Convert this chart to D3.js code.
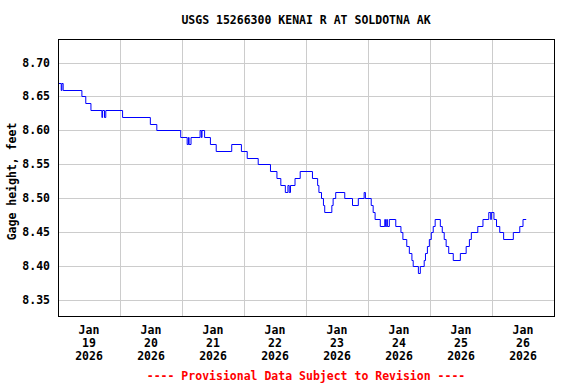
<!DOCTYPE html>
<html>
<head>
<meta charset="utf-8">
<script src="https://cdn.jsdelivr.net/npm/d3@7"></script>
<style>
  body { margin: 0; background: #fff; }
  text { font-family: "DejaVu Sans Mono", monospace; font-weight: bold; }
</style>
</head>
<body>
<div id="chart"></div>
<script>
// gage height, step changes: hours after Jan 19 2026 00:00 and value (ft)
var stepHours = [0, 1.25, 1.5, 2, 9.25, 10.75, 12.75, 17, 17.25, 18, 18.5, 25, 35.75, 38.25,
  47.5, 50, 50.5, 50.75, 51.5, 55, 55.5, 55.75, 56.75, 59, 61.25, 67.25, 71, 73.25, 77.5,
  82.25, 84.75, 86.25, 88, 89, 89.5, 90, 91.75, 93.75, 98.5, 100.5, 101, 102, 102.75, 103.25,
  106, 106.5, 107.5, 111, 114, 116.25, 118.5, 119, 121.25, 122, 122.75, 124.75, 126.5, 126.75,
  127.25, 127.5, 128.25, 130.75, 132.75, 133.5, 135, 136, 137, 137.5, 139.5, 140.25, 141.75,
  142.25, 143, 143.75, 144.5, 145.25, 146, 148, 148.75, 149.5, 150.25, 151.25, 153, 155.75,
  158, 159.25, 160, 162.5, 164.5, 166.75, 167.5, 167.75, 168.75, 169.75, 171, 172.5, 176.25,
  178.75, 180, 181.25];
var stepValues = [8.67, 8.66, 8.67, 8.66, 8.65, 8.64, 8.63, 8.62, 8.63, 8.62, 8.63, 8.62, 8.61, 8.60,
  8.59, 8.58, 8.59, 8.58, 8.59, 8.60, 8.59, 8.60, 8.59, 8.58, 8.57, 8.58, 8.57, 8.56, 8.55,
  8.54, 8.53, 8.52, 8.51, 8.52, 8.51, 8.52, 8.53, 8.54, 8.53, 8.52, 8.51, 8.50, 8.49, 8.48,
  8.49, 8.50, 8.51, 8.50, 8.49, 8.50, 8.51, 8.50, 8.49, 8.48, 8.47, 8.46, 8.47, 8.46,
  8.47, 8.46, 8.47, 8.46, 8.45, 8.44, 8.43, 8.42, 8.41, 8.40, 8.39, 8.40, 8.41,
  8.42, 8.43, 8.44, 8.45, 8.46, 8.47, 8.46, 8.45, 8.44, 8.43, 8.42, 8.41, 8.42,
  8.43, 8.44, 8.45, 8.46, 8.47, 8.48, 8.47, 8.48, 8.47, 8.46, 8.45, 8.44, 8.45,
  8.46, 8.47, 8.47];
var dayLabels = ["19", "20", "21", "22", "23", "24", "25", "26"];
var yTicks = [8.35, 8.40, 8.45, 8.50, 8.55, 8.60, 8.65, 8.70];

var startDate = new Date(2026, 0, 19);
var data = stepHours.map(function(h, i) {
  return { date: startDate.getTime() + h * 3600000, value: stepValues[i] };
});

var W = 576, H = 384;
var margin = {top: 39, right: 22, bottom: 68, left: 58};
var width = W - margin.left - margin.right,   // 496
    height = H - margin.top - margin.bottom;  // 277

var svg = d3.select("#chart").append("svg")
  .attr("width", W).attr("height", H);

var g = svg.append("g")
  .attr("transform", "translate(" + margin.left + "," + margin.top + ")");

var x = d3.scaleTime()
  .domain([startDate, d3.timeDay.offset(startDate, 8)])
  .range([0, width]);
var y = d3.scaleLinear()
  .domain([8.327, 8.7346])
  .range([height, 0]);

// grid
g.append("g")
  .selectAll("line.h")
  .data(yTicks)
  .enter().append("line")
    .attr("x1", 0).attr("x2", width)
    .attr("y1", function(d) { return Math.round(y(d)) + 0.5; })
    .attr("y2", function(d) { return Math.round(y(d)) + 0.5; })
    .attr("stroke", "#cccccc");
g.append("g")
  .selectAll("line.v")
  .data(d3.range(1, 8))
  .enter().append("line")
    .attr("x1", function(d) { return Math.round(x(d3.timeDay.offset(startDate, d))) + 0.5; })
    .attr("x2", function(d) { return Math.round(x(d3.timeDay.offset(startDate, d))) + 0.5; })
    .attr("y1", 0).attr("y2", height)
    .attr("stroke", "#cccccc");

// y tick labels
g.selectAll("text.ylab")
  .data(yTicks)
  .enter().append("text")
    .attr("x", -8)
    .attr("y", function(d) { return y(d) + 4; })
    .attr("text-anchor", "end")
    .style("font-size", "11.5px")
    .text(function(d) { return d.toFixed(2); });

// x tick labels at noon of each day
var xl = g.selectAll("text.xlab")
  .data(dayLabels)
  .enter().append("text")
    .attr("text-anchor", "middle")
    .attr("transform", function(d, i) {
      return "translate(" + x(d3.timeHour.offset(startDate, i * 24 + 12)) + "," + (height + 18) + ")";
    })
    .style("font-size", "11.5px");
xl.append("tspan").attr("x", 0).attr("dy", 0).text("Jan");
xl.append("tspan").attr("x", 0).attr("dy", 13).text(function(d) { return d; });
xl.append("tspan").attr("x", 0).attr("dy", 13).text("2026");

// line
var line = d3.line()
  .curve(d3.curveStepAfter)
  .x(function(d) { return x(d.date); })
  .y(function(d) { return Math.round(y(d.value)) + 0.5; });
g.append("path")
  .datum(data)
  .attr("fill", "none")
  .attr("stroke", "#0000ff")
  .attr("stroke-width", 1)
  .attr("d", line);

// frame
g.append("rect")
  .attr("x", 0.5).attr("y", 0.5)
  .attr("width", width).attr("height", height)
  .attr("fill", "none")
  .attr("stroke", "#000")
  .attr("stroke-width", 1);

// title + labels
svg.append("text")
  .attr("x", margin.left + width / 2).attr("y", 24)
  .attr("text-anchor", "middle")
  .style("font-size", "11.5px")
  .text("USGS 15266300 KENAI R AT SOLDOTNA AK");

svg.append("text")
  .attr("transform", "translate(16," + (margin.top + height / 2 + 4) + ") rotate(-90)")
  .attr("text-anchor", "middle")
  .style("font-size", "11.5px")
  .text("Gage height, feet");

svg.append("text")
  .attr("x", margin.left + width / 2).attr("y", 380)
  .attr("text-anchor", "middle")
  .attr("fill", "#ff0000")
  .style("font-size", "11.5px")
  .text("---- Provisional Data Subject to Revision ----");
</script>
</body>
</html>
